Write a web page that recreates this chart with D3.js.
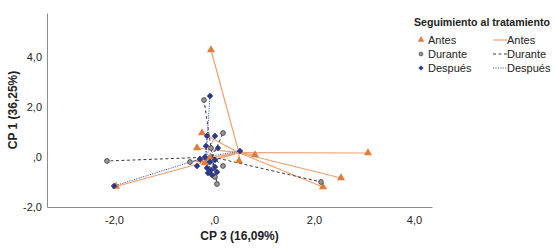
<!DOCTYPE html>
<html>
<head>
<meta charset="utf-8">
<script src="https://cdn.jsdelivr.net/npm/d3@7"></script>
<style>
  body { margin: 0; background: #fff; }
  svg { display: block; font-family: "Liberation Sans", Arial, sans-serif; }
</style>
</head>
<body>
<svg id="chart" width="556" height="249"></svg>
<script>
// scores per group: [CP 3, CP 1]
const antes = [
  [-0.06, 4.28], [3.08, 0.16], [2.54, -0.84], [2.18, -1.20], [-1.96, -1.18],
  [0.82, 0.08], [0.50, -0.16], [-0.24, 0.96], [-0.34, 0.36], [-0.18, -0.24],
  [-0.08, -0.04], [-0.28, -0.12]
];
const durante = [
  [-0.20, 2.28], [-2.14, -0.16], [2.14, -1.00], [0.18, 0.96], [-0.06, 0.36],
  [0.18, -0.36], [0.06, -1.08], [0.02, -0.80], [-0.48, -0.20]
];
const despues = [
  [-0.08, 2.44], [-2.00, -1.16], [-0.14, 0.84], [0.02, 0.84], [-0.16, 0.44],
  [0.08, 0.36], [0.52, 0.24], [-0.28, -0.08], [-0.18, 0.00], [-0.08, -0.20],
  [0.02, -0.12], [-0.14, -0.44], [-0.06, -0.52], [0.02, -0.40], [0.06, -0.60],
  [-0.12, -0.64], [-0.34, -0.36], [-0.04, -0.72]
];
const groupNames = ["Antes", "Durante", "Después"];
const xTicks = [-2, 0, 2, 4];
const yTicks = [-2, 0, 2, 4];

const svg = d3.select("#chart");
const plot = { left: 47, right: 432, top: 13, bottom: 207 };

const x = d3.scaleLinear().domain([-3.34, 4.36]).range([plot.left, plot.right]);
const y = d3.scaleLinear().domain([-2, 5.76]).range([plot.bottom, plot.top]);

const fmt = d => d === 0 ? ",0" : d3.format(".1f")(d).replace(".", ",").replace("−", "-");

const groups = [
  { name: groupNames[0], data: antes, line: "#f0a070", dash: null, width: 1.2 },
  { name: groupNames[1], data: durante, line: "#3a3a3a", dash: "3,2.5", width: 1 },
  { name: groupNames[2], data: despues, line: "#4060c0", dash: "1.2,1.2", width: 1 }
];

// axes (no tick marks, just labels)
const xAxis = svg.append("g")
  .attr("transform", `translate(0,${plot.bottom})`)
  .call(d3.axisBottom(x).tickValues(xTicks).tickFormat(fmt).tickSize(0).tickPadding(9));
const yAxis = svg.append("g")
  .attr("transform", `translate(${plot.left},0)`)
  .call(d3.axisLeft(y).tickValues(yTicks).tickFormat(fmt).tickSize(0).tickPadding(5));
[xAxis, yAxis].forEach(a => {
  a.select(".domain").attr("stroke", "#8c8c8c").attr("stroke-width", 1);
  a.selectAll("text").style("font-size", "11px").attr("fill", "#222")
    .style("font-family", "'Liberation Sans', Arial, sans-serif");
});

svg.append("text")
  .attr("x", (plot.left + plot.right) / 2)
  .attr("y", 240)
  .attr("text-anchor", "middle")
  .style("font-size", "12px")
  .style("font-weight", "bold")
  .attr("fill", "#222")
  .text("CP 3 (16,09%)");

svg.append("text")
  .attr("transform", `translate(17,${(plot.top + plot.bottom) / 2}) rotate(-90)`)
  .attr("text-anchor", "middle")
  .style("font-size", "12px")
  .style("font-weight", "bold")
  .attr("fill", "#222")
  .text("CP 1 (36,25%)");

// spokes from each group's centroid to its cases
const lines = svg.append("g").attr("class", "spokes");
groups.forEach(gr => {
  const cx = d3.mean(gr.data, d => d[0]);
  const cy = d3.mean(gr.data, d => d[1]);
  lines.selectAll(null)
    .data(gr.data)
    .join("line")
    .attr("x1", x(cx)).attr("y1", y(cy))
    .attr("x2", d => x(d[0])).attr("y2", d => y(d[1]))
    .attr("stroke", gr.line)
    .attr("stroke-width", gr.width)
    .attr("stroke-dasharray", gr.dash);
});

const tri = d3.symbol().type(d3.symbolTriangle).size(28);
const circ = d3.symbol().type(d3.symbolCircle).size(18);
const sq = d3.symbol().type(d3.symbolSquare).size(17);

function drawMarker(sel, i) {
  if (i === 0) sel.append("path").attr("d", tri).attr("fill", "#e07b3a");
  if (i === 1) sel.append("path").attr("d", circ).attr("fill", "#9a9a9a").attr("stroke", "#333").attr("stroke-width", 0.8);
  if (i === 2) sel.append("path").attr("d", sq).attr("transform", "rotate(45)")
    .attr("fill", "#2b3a8c").attr("stroke", "#1e2a6e").attr("stroke-width", 0.5);
}

const marks = svg.append("g").attr("class", "markers");
groups.forEach((gr, i) => {
  gr.data.forEach(d => {
    const m = marks.append("g").attr("transform", `translate(${x(d[0])},${y(d[1])})`);
    drawMarker(m, i);
  });
});

// legend
const legend = svg.append("g").attr("transform", "translate(414,0)");
legend.append("text")
  .attr("x", 0).attr("y", 26)
  .style("font-size", "10.6px")
  .style("font-weight", "bold")
  .attr("fill", "#222")
  .text("Seguimiento al tratamiento");

groups.forEach((gr, i) => {
  const row = legend.append("g").attr("transform", `translate(0,${40 + i * 14})`);
  const mk = row.append("g").attr("transform", "translate(7,0) scale(0.8)");
  drawMarker(mk, i);
  row.append("text").attr("x", 14).attr("y", 4)
    .style("font-size", "11px").attr("fill", "#222").text(gr.name);
  row.append("line")
    .attr("x1", 79).attr("x2", 93).attr("y1", 0).attr("y2", 0)
    .attr("stroke", gr.line).attr("stroke-width", gr.width)
    .attr("stroke-dasharray", gr.dash);
  row.append("text").attr("x", 93).attr("y", 4)
    .style("font-size", "11px").attr("fill", "#222").text(gr.name);
});
</script>
</body>
</html>
